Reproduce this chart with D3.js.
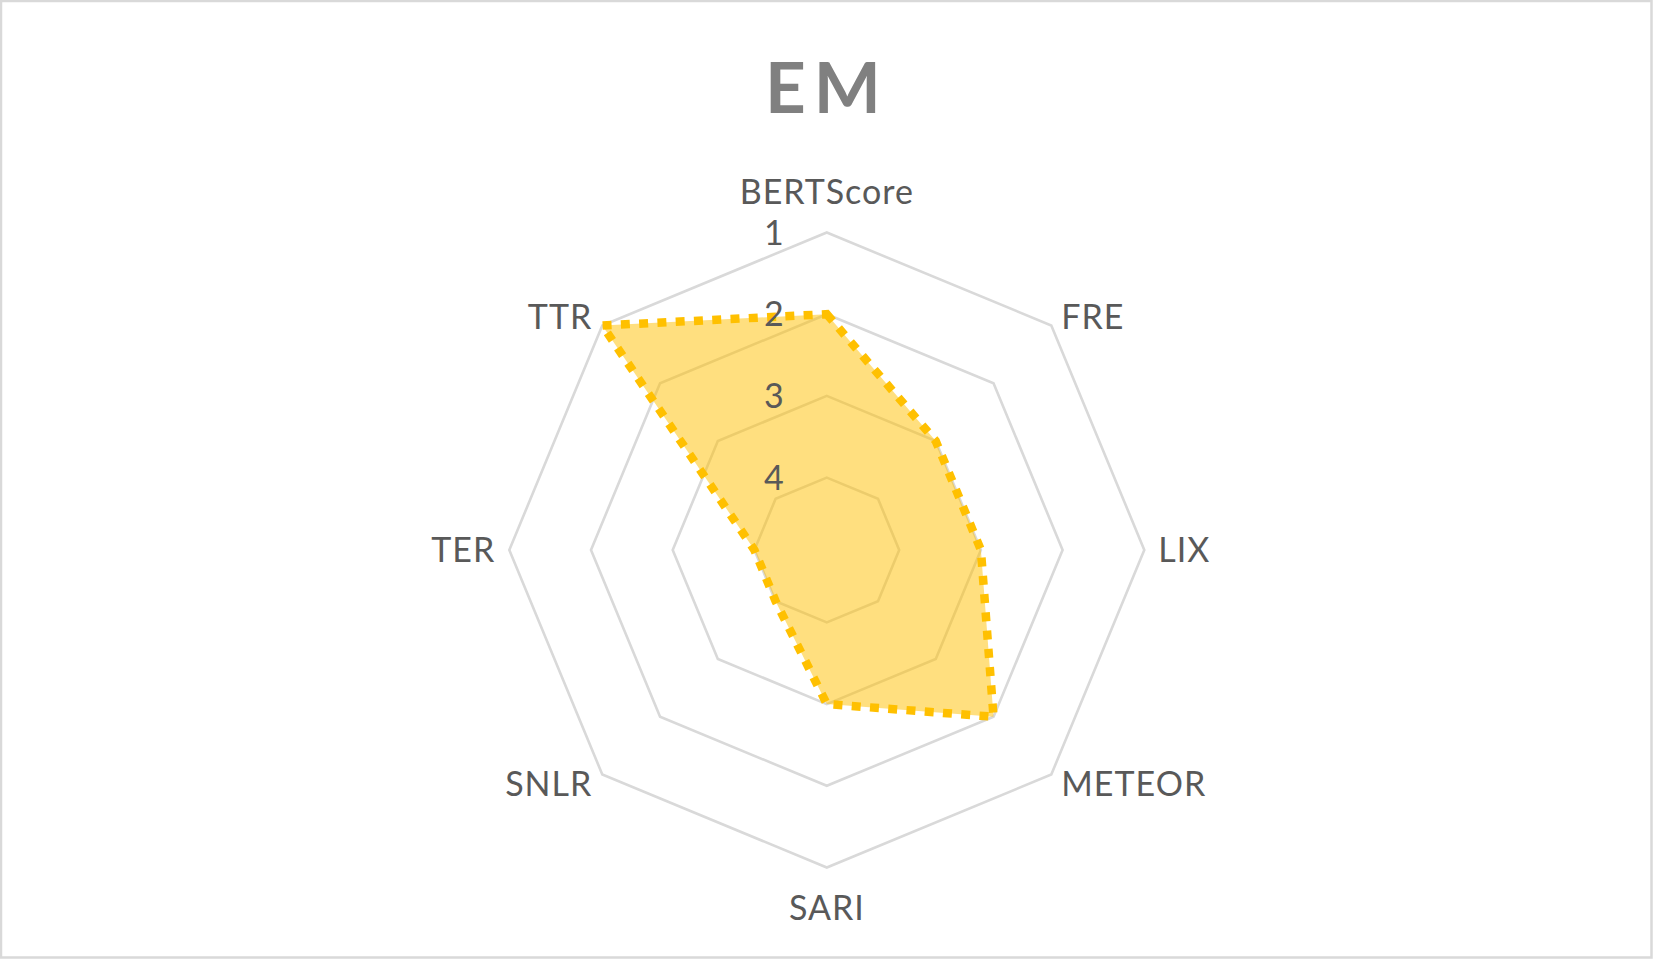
<!DOCTYPE html>
<html>
<head>
<meta charset="utf-8">
<script src="https://cdn.jsdelivr.net/npm/d3@7"></script>
<style>
  html, body { margin: 0; padding: 0; background: #ffffff; }
  svg { display: block; }
</style>
</head>
<body>
<script>
// ---- data ----
const chartTitle = "EM";
const categories = ["BERTScore", "FRE", "LIX", "METEOR", "SARI", "SNLR", "TER", "TTR"];
const emValues = [2, 3, 3, 2, 3, 4, 4, 1];
const tickValues = [1, 2, 3, 4];

// ---- layout ----
const W = 1653, H = 959;
const cx = 826.8, cy = 550;
const R = 317.5;
const fontFamily = "Lato, 'Open Sans', sans-serif";
const labelSize = 34;
const capH = 0.7165 * labelSize;

const svg = d3.select("body").append("svg")
  .attr("width", W).attr("height", H);

// outer chart border
svg.append("rect")
  .attr("x", 1).attr("y", 1)
  .attr("width", W - 2.5).attr("height", H - 2.5)
  .attr("fill", "#ffffff")
  .attr("stroke", "#d9d9d9")
  .attr("stroke-width", 2.5);

// reversed radial scale: 1 at the rim, larger values towards the centre
const rScale = d3.scaleLinear().domain([1, 4]).range([R, 72.4]);
const angle = d3.scalePoint().domain(categories).range([0, 2 * Math.PI * (categories.length - 1) / categories.length]);

const g = svg.append("g").attr("transform", `translate(${cx},${cy})`);

const radial = d3.lineRadial()
  .angle(d => d.a)
  .radius(d => d.r)
  .curve(d3.curveLinearClosed);

// grid rings
g.selectAll("path.ring")
  .data(tickValues)
  .join("path")
  .attr("class", "ring")
  .attr("d", v => radial(categories.map(c => ({ a: angle(c), r: rScale(v) }))))
  .attr("fill", "none")
  .attr("stroke", "#d9d9d9")
  .attr("stroke-width", 2.6);

// series
const pts = categories.map((c, i) => ({ a: angle(c), r: rScale(emValues[i]) }));
g.append("path")
  .attr("d", radial(pts))
  .attr("fill", "#FFC000")
  .attr("fill-opacity", 0.5)
  .attr("stroke", "none");

g.append("path")
  .attr("d", radial(pts))
  .attr("fill", "none")
  .attr("stroke", "#FFC000")
  .attr("stroke-width", 8.5)
  .attr("stroke-dasharray", "9 9.3")
  .attr("stroke-linejoin", "miter");

// tick labels along the top axis
g.selectAll("text.tick")
  .data(tickValues)
  .join("text")
  .attr("class", "tick")
  .attr("x", -43)
  .attr("y", v => -rScale(v) + capH / 2)
  .attr("text-anchor", "end")
  .attr("font-family", fontFamily)
  .attr("font-size", labelSize)
  .attr("fill", "#595959")
  .text(v => v);

// category labels
g.selectAll("text.cat")
  .data(categories)
  .join("text")
  .attr("class", "cat")
  .each(function (c) {
    const a = angle(c);
    const s = Math.sin(a), co = Math.cos(a);
    const vx = R * s, vy = -R * co;
    let x, capCenter, anchor;
    if (Math.abs(s) < 0.01) {
      anchor = "middle";
      x = vx;
      capCenter = vy + (co > 0 ? -40.5 : 40.5);
    } else {
      anchor = s > 0 ? "start" : "end";
      const gap = Math.abs(s) > 0.99 ? 14 : 10;
      x = vx + (s > 0 ? gap : -gap);
      capCenter = vy - co * 12.7;
    }
    d3.select(this)
      .attr("x", x)
      .attr("y", capCenter + capH / 2)
      .attr("text-anchor", anchor);
  })
  .attr("font-family", fontFamily)
  .attr("font-size", labelSize)
  .attr("letter-spacing", 1)
  .attr("fill", "#595959")
  .text(c => c);

// title
svg.append("text")
  .attr("x", 823 + 4)
  .attr("y", 113)
  .attr("text-anchor", "middle")
  .attr("font-family", fontFamily)
  .attr("font-weight", "bold")
  .attr("font-size", 71)
  .attr("letter-spacing", 8)
  .attr("fill", "#808080")
  .text(chartTitle);
</script>
</body>
</html>
